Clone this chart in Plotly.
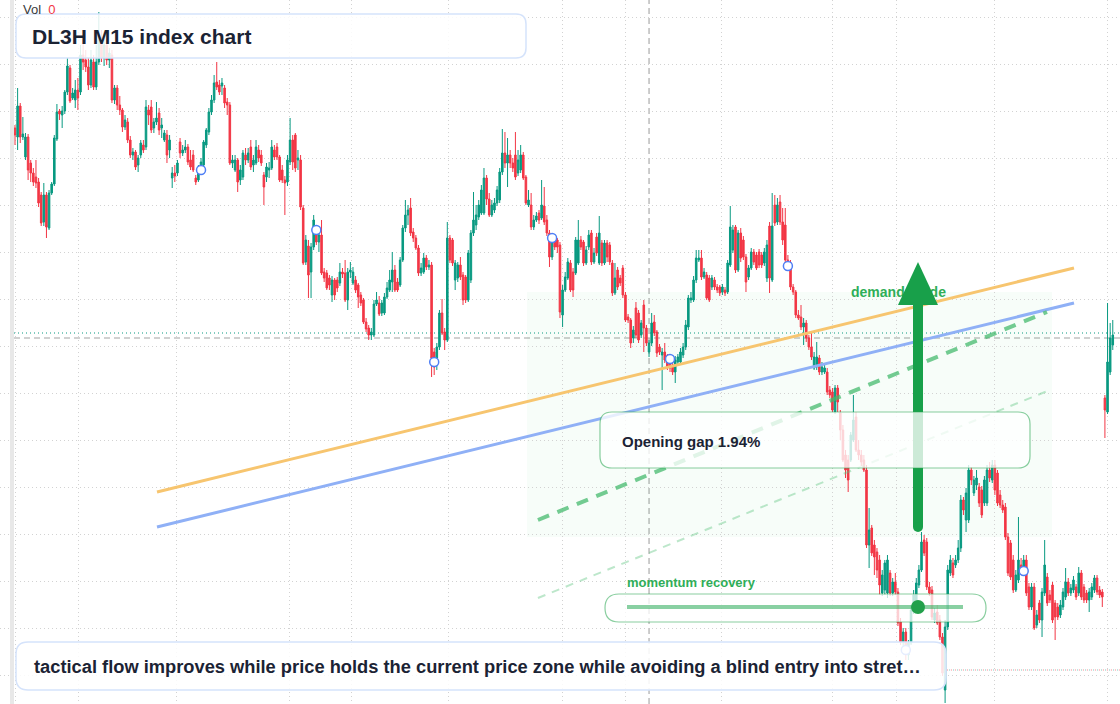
import plotly.graph_objects as go

# ---------------- data ----------------
opens = [
 872, 863, 894, 863, 843, 863, 837, 827, 823, 818,
 805, 778, 805, 772, 807, 816, 861, 889, 885, 889,
 908, 932, 902, 900, 910, 908, 945, 940, 933, 915,
 938, 913, 938, 958, 942, 955, 940, 945, 900, 912,
 895, 890, 873, 878, 860, 845, 848, 835, 845, 855,
 853, 890, 893, 872, 878, 887, 872, 860, 865, 850,
 822, 827, 827, 858, 847, 850, 853, 840, 845, 822,
 820, 830, 835, 855, 868, 888, 900, 918, 915, 914,
 912, 898, 895, 837, 830, 840, 820, 823, 845, 840,
 853, 835, 837, 850, 845, 825, 823, 830, 832, 850,
 853, 843, 830, 820, 818, 838, 860, 865, 840, 840,
 792, 738, 754, 728, 753, 765, 758, 765, 728, 727,
 722, 705, 720, 720, 717, 728, 727, 700, 728, 717,
 720, 715, 705, 700, 678, 672, 665, 665, 696, 697,
 687, 687, 703, 710, 718, 730, 718, 715, 740, 772,
 785, 792, 768, 762, 752, 727, 728, 742, 733, 735,
 648, 642, 653, 687, 668, 660, 762, 760, 720, 722,
 735, 725, 723, 700, 720, 767, 775, 783, 787, 787,
 822, 801, 785, 790, 797, 800, 828, 847, 837, 845,
 837, 845, 827, 830, 845, 823, 795, 795, 773, 780,
 787, 782, 794, 780, 767, 743, 760, 760, 755, 685,
 710, 722, 737, 728, 727, 737, 760, 758, 737, 753,
 767, 738, 763, 737, 757, 737, 757, 755, 737, 707,
 730, 722, 732, 705, 683, 680, 662, 692, 687, 665,
 695, 672, 648, 657, 678, 668, 653, 645, 648, 643,
 638, 635, 628, 638, 638, 645, 653, 673, 700, 700,
 720, 740, 742, 723, 725, 722, 713, 720, 713, 713,
 708, 710, 708, 735, 750, 773, 730, 767, 760, 743,
 723, 732, 748, 745, 748, 745, 737, 722, 774, 720,
 795, 778, 798, 778, 775, 740, 737, 713, 708, 685,
 683, 673, 677, 662, 653, 632, 633, 642, 628, 628,
 628, 610, 608, 588, 612, 587, 570, 545, 540, 540,
 560, 583, 550, 545, 540, 530, 455, 472, 455, 448,
 440, 407, 410, 407, 427, 407, 418, 408, 378, 358,
 368, 345, 357, 388, 400, 415, 430, 460, 458, 413,
 410, 380, 388, 380, 363, 310, 373, 427, 437, 435,
 440, 452, 500, 480, 480, 530, 507, 515, 513, 510,
 497, 497, 530, 520, 535, 527, 505, 495, 493, 463,
 457, 440, 410, 420, 435, 428, 440, 413, 393, 413,
 375, 397, 380, 407, 423, 405, 415, 397, 393, 385,
 393, 403, 418, 407, 410, 413, 407, 427, 413, 407,
 400, 403, 410, 422, 410, 408, 602, 588, 628, 655,
]
closes = [
 865, 894, 863, 866, 863, 830, 827, 818, 817, 797,
 777, 805, 773, 807, 816, 862, 888, 886, 889, 908,
 934, 899, 907, 910, 902, 945, 938, 933, 915, 940,
 913, 938, 960, 942, 955, 940, 947, 900, 912, 895,
 890, 873, 880, 860, 845, 848, 833, 842, 857, 850,
 893, 885, 870, 878, 882, 870, 875, 867, 845, 860,
 827, 824, 837, 847, 850, 853, 838, 833, 830, 818,
 832, 838, 858, 870, 888, 900, 917, 913, 908, 917,
 897, 895, 837, 840, 840, 818, 830, 847, 840, 847,
 833, 840, 853, 842, 837, 813, 833, 832, 853, 843,
 843, 820, 820, 817, 840, 860, 838, 832, 842, 793,
 737, 760, 725, 753, 780, 758, 765, 727, 722, 712,
 715, 720, 705, 712, 728, 726, 700, 728, 730, 728,
 710, 703, 697, 678, 671, 665, 668, 696, 700, 686,
 697, 703, 712, 720, 730, 710, 710, 740, 772, 785,
 790, 767, 762, 752, 727, 732, 742, 733, 735, 642,
 633, 653, 687, 667, 660, 762, 740, 737, 737, 735,
 723, 700, 700, 747, 767, 780, 785, 795, 810, 822,
 801, 785, 795, 797, 810, 828, 847, 837, 845, 837,
 832, 823, 840, 845, 822, 797, 800, 773, 780, 784,
 780, 795, 778, 767, 743, 760, 753, 753, 688, 710,
 723, 738, 710, 710, 760, 760, 753, 737, 750, 765,
 738, 747, 747, 767, 737, 757, 743, 738, 707, 722,
 713, 717, 705, 680, 680, 657, 670, 665, 660, 677,
 672, 657, 657, 677, 667, 647, 648, 648, 640, 633,
 632, 628, 640, 643, 648, 653, 675, 702, 702, 720,
 742, 742, 723, 728, 702, 700, 722, 713, 710, 707,
 713, 707, 737, 773, 770, 730, 767, 742, 743, 718,
 732, 748, 738, 732, 735, 735, 748, 755, 722, 774,
 777, 795, 778, 760, 740, 735, 713, 708, 685, 682,
 673, 677, 662, 653, 643, 643, 643, 628, 633, 632,
 608, 605, 590, 612, 598, 570, 540, 530, 520, 565,
 580, 550, 545, 538, 530, 455, 470, 447, 443, 430,
 415, 425, 437, 440, 407, 418, 408, 377, 358, 368,
 348, 357, 390, 405, 417, 430, 458, 447, 413, 407,
 383, 387, 377, 363, 327, 373, 430, 440, 425, 440,
 452, 500, 490, 507, 530, 520, 520, 522, 497, 485,
 520, 530, 522, 535, 510, 497, 495, 490, 463, 427,
 423, 410, 425, 440, 428, 440, 407, 393, 413, 372,
 385, 380, 408, 435, 397, 400, 380, 383, 383, 395,
 408, 418, 407, 412, 420, 403, 427, 403, 400, 400,
 408, 413, 422, 408, 405, 403, 590, 638, 662, 665,
]
highs = [
 875, 912, 897, 883, 867, 866, 840, 832, 840, 822,
 808, 817, 808, 810, 818, 865, 896, 891, 894, 910,
 942, 935, 912, 920, 922, 955, 960, 950, 942, 950,
 945, 955, 988, 970, 962, 964, 952, 950, 915, 915,
 904, 892, 885, 882, 864, 852, 850, 845, 860, 860,
 900, 895, 900, 882, 898, 892, 882, 870, 870, 865,
 833, 835, 840, 862, 855, 860, 856, 850, 850, 825,
 835, 842, 860, 872, 892, 905, 925, 938, 920, 922,
 915, 902, 898, 845, 845, 842, 835, 850, 852, 852,
 860, 845, 860, 855, 850, 828, 837, 838, 860, 855,
 857, 845, 835, 824, 845, 882, 865, 867, 850, 845,
 795, 765, 760, 757, 785, 772, 770, 780, 732, 730,
 725, 724, 722, 723, 737, 732, 740, 732, 738, 733,
 724, 717, 708, 702, 682, 675, 672, 700, 708, 704,
 700, 707, 718, 730, 748, 735, 722, 743, 775, 800,
 795, 802, 772, 765, 755, 737, 747, 745, 740, 738,
 652, 657, 690, 701, 672, 778, 765, 762, 740, 738,
 743, 728, 725, 750, 770, 808, 795, 800, 815, 832,
 825, 807, 800, 802, 814, 832, 871, 868, 862, 850,
 842, 868, 850, 855, 848, 825, 810, 807, 785, 788,
 790, 820, 813, 785, 770, 764, 764, 762, 758, 715,
 728, 742, 740, 732, 763, 780, 764, 760, 754, 770,
 770, 752, 767, 784, 760, 760, 760, 758, 740, 737,
 733, 725, 735, 708, 686, 682, 674, 698, 690, 680,
 700, 675, 660, 687, 685, 670, 656, 652, 657, 646,
 642, 638, 644, 646, 652, 657, 680, 705, 708, 724,
 750, 750, 750, 732, 728, 725, 725, 723, 716, 715,
 716, 713, 740, 794, 775, 775, 770, 772, 764, 746,
 735, 752, 751, 748, 751, 748, 752, 760, 778, 807,
 805, 802, 805, 792, 792, 745, 740, 716, 710, 690,
 695, 682, 680, 665, 667, 648, 658, 645, 638, 635,
 632, 614, 612, 615, 615, 590, 575, 550, 545, 568,
 605, 588, 560, 550, 545, 535, 492, 475, 460, 452,
 445, 430, 440, 445, 430, 422, 427, 412, 382, 372,
 372, 360, 395, 410, 422, 435, 468, 465, 462, 418,
 414, 392, 395, 385, 367, 380, 435, 445, 442, 445,
 460, 505, 503, 512, 535, 533, 524, 530, 517, 514,
 524, 535, 538, 540, 540, 530, 510, 500, 497, 467,
 460, 445, 430, 483, 442, 445, 445, 417, 417, 417,
 390, 400, 412, 460, 427, 410, 418, 400, 397, 400,
 412, 432, 422, 416, 424, 416, 433, 430, 416, 410,
 412, 417, 425, 425, 414, 411, 605, 697, 677, 680,
]
lows = [
 855, 850, 857, 860, 840, 820, 818, 814, 812, 793,
 774, 774, 762, 770, 805, 814, 859, 880, 872, 886,
 905, 897, 900, 892, 890, 905, 930, 928, 910, 912,
 910, 910, 935, 938, 934, 935, 932, 897, 896, 890,
 885, 868, 870, 857, 842, 840, 830, 828, 842, 847,
 850, 875, 867, 867, 875, 865, 862, 858, 837, 842,
 812, 818, 824, 842, 844, 847, 835, 830, 828, 815,
 818, 825, 832, 852, 865, 885, 897, 910, 905, 905,
 892, 885, 835, 832, 828, 808, 815, 820, 835, 837,
 830, 828, 835, 838, 834, 795, 818, 822, 830, 840,
 840, 818, 817, 785, 814, 835, 830, 828, 830, 790,
 735, 735, 702, 702, 750, 755, 748, 725, 718, 710,
 710, 698, 700, 708, 714, 722, 698, 690, 722, 715,
 707, 692, 694, 676, 668, 660, 660, 663, 694, 684,
 684, 685, 701, 708, 708, 708, 708, 713, 738, 768,
 775, 764, 758, 750, 724, 724, 726, 730, 730, 623,
 625, 630, 650, 665, 650, 658, 737, 734, 710, 718,
 720, 695, 697, 698, 717, 764, 770, 780, 785, 785,
 795, 783, 783, 787, 794, 797, 825, 832, 813, 832,
 828, 820, 824, 827, 820, 795, 793, 770, 770, 778,
 776, 780, 775, 764, 733, 740, 750, 747, 682, 673,
 708, 720, 708, 703, 725, 735, 750, 734, 735, 750,
 735, 736, 744, 735, 734, 735, 738, 735, 704, 705,
 710, 714, 702, 678, 677, 652, 657, 662, 657, 662,
 648, 654, 643, 654, 664, 643, 645, 610, 637, 630,
 628, 625, 617, 635, 635, 642, 650, 670, 697, 698,
 717, 738, 720, 721, 700, 698, 710, 710, 707, 704,
 705, 704, 706, 733, 747, 727, 728, 738, 740, 708,
 720, 730, 735, 730, 732, 732, 734, 718, 707, 718,
 774, 775, 775, 755, 738, 730, 710, 705, 682, 680,
 670, 655, 658, 650, 640, 630, 630, 625, 625, 626,
 605, 602, 588, 586, 588, 560, 538, 522, 508, 538,
 558, 548, 540, 534, 528, 452, 432, 444, 425, 422,
 405, 404, 405, 402, 404, 404, 405, 374, 355, 352,
 340, 340, 355, 386, 397, 412, 428, 444, 410, 404,
 380, 377, 375, 360, 324, 297, 370, 424, 422, 432,
 437, 448, 485, 468, 477, 515, 504, 510, 493, 482,
 494, 494, 518, 517, 505, 494, 492, 487, 460, 424,
 420, 407, 408, 417, 425, 425, 404, 390, 390, 370,
 372, 377, 363, 404, 394, 397, 377, 360, 380, 382,
 390, 400, 404, 404, 407, 400, 404, 400, 397, 397,
 388, 400, 407, 405, 402, 393, 562, 586, 625, 650,
]
bars = list(range(len(opens)))

# signal markers (bar index, price)
signal_bar = [71, 115, 160, 205, 250, 295, 340, 385]
signal_price = [830, 770, 638, 762, 641, 734, 350, 429]

# trend / guide lines (bar index, price)
upper_trend_bar = [54.2, 404.2]
upper_trend_price = [508, 732]
lower_trend_bar = [54.2, 404.2]
lower_trend_price = [473, 697]
guide_bar = [199.6, 393.9]
guide_price = [480, 688]
guide2_bar = [199.6, 395.0]
guide2_price = [402, 610]
zone_bar = [195.4, 395.8]
zone_price = [463, 708]

last_price = 667
cross_price = 662
cross_bar = 242
low_line_price = 330
low_line_start = 355.7
label_bar = 319.1
label_price = 707

time_grid = [0, 24.4, 61.5, 104.6, 128.6, 165.3, 208.8, 233.2, 269.8, 312.2, 336.6, 373.7, 416.8]

# ---------------- layout helpers ----------------
W, H = 1120, 704
X0, DX = 15, 2.62
UP, DOWN = "#089981", "#f23645"
FONT = "Liberation Sans, Arial, Helvetica, sans-serif"


def px(x):
    return x / W


def py(y):
    return 1 - y / H


def rrect(x0, y0, x1, y1, r):
    pts = [
        ("M", (x0 + r, y0)), ("L", (x1 - r, y0)), ("Q", (x1, y0), (x1, y0 + r)),
        ("L", (x1, y1 - r)), ("Q", (x1, y1), (x1 - r, y1)), ("L", (x0 + r, y1)),
        ("Q", (x0, y1), (x0, y1 - r)), ("L", (x0, y0 + r)), ("Q", (x0, y0), (x0 + r, y0)),
    ]
    s = ""
    for p in pts:
        s += p[0] + " " + " ".join(f"{px(a):.5f},{py(b):.5f}" for a, b in p[1:]) + " "
    return s + "Z"


fig = go.Figure()

fig.add_trace(go.Candlestick(
    x=bars, open=opens, high=highs, low=lows, close=closes,
    increasing=dict(line=dict(color=UP, width=1), fillcolor=UP),
    decreasing=dict(line=dict(color=DOWN, width=1), fillcolor=DOWN),
    whiskerwidth=0, hoverinfo="skip", showlegend=False,
))

# "demand guide" label sits under the arrow
fig.add_trace(go.Scatter(
    x=[label_bar], y=[label_price], mode="text", text=["demand guide"],
    textposition="middle right",
    textfont=dict(family=FONT, size=14, color="#2fae58", weight="bold"),
    hoverinfo="skip", showlegend=False,
))

fig.add_trace(go.Scatter(x=upper_trend_bar, y=upper_trend_price, mode="lines",
                         line=dict(color="#f7c56f", width=3), hoverinfo="skip", showlegend=False))
fig.add_trace(go.Scatter(x=lower_trend_bar, y=lower_trend_price, mode="lines",
                         line=dict(color="#8fb0f6", width=3), hoverinfo="skip", showlegend=False))
fig.add_trace(go.Scatter(x=guide_bar, y=guide_price, mode="lines",
                         line=dict(color="rgba(70,185,110,0.75)", width=4, dash="12px,9px"),
                         hoverinfo="skip", showlegend=False))
fig.add_trace(go.Scatter(x=guide2_bar, y=guide2_price, mode="lines",
                         line=dict(color="rgba(90,195,125,0.4)", width=2, dash="8px,7px"),
                         hoverinfo="skip", showlegend=False))
fig.add_trace(go.Scatter(x=signal_bar, y=signal_price, mode="markers",
                         marker=dict(symbol="circle", size=9, color="white",
                                     line=dict(color="#4f7ff5", width=1.5)),
                         hoverinfo="skip", showlegend=False))

shapes = []
# demand zone
shapes.append(dict(type="rect", xref="x", yref="y", x0=zone_bar[0], x1=zone_bar[1],
                   y0=zone_price[0], y1=zone_price[1], layer="below",
                   fillcolor="rgba(34,197,94,0.035)", line=dict(width=0)))
# crosshair and price lines
shapes.append(dict(type="line", xref="x", yref="paper", x0=cross_bar, x1=cross_bar, y0=0, y1=1,
                   layer="below", line=dict(color="#9a9a9a", width=1, dash="6px,4px")))
shapes.append(dict(type="line", xref="paper", yref="y", x0=px(14), x1=1, y0=cross_price, y1=cross_price,
                   layer="below", line=dict(color="#a3a3a3", width=1, dash="6px,4px")))
shapes.append(dict(type="line", xref="paper", yref="y", x0=px(14), x1=1, y0=last_price, y1=last_price,
                   layer="below", line=dict(color=UP, width=1, dash="1px,3px")))
shapes.append(dict(type="line", xref="x", yref="y", x0=low_line_start, x1=421.7,
                   y0=low_line_price, y1=low_line_price,
                   layer="below", line=dict(color="rgba(242,54,69,0.6)", width=1, dash="1px,3px")))
shapes.append(dict(type="line", xref="x", yref="y", x0=low_line_start + 0.8, x1=421.7,
                   y0=low_line_price, y1=low_line_price,
                   layer="below", line=dict(color="rgba(8,153,129,0.5)", width=1, dash="1px,3px")))

# big arrow
AC = "#18a04a"
shapes.append(dict(type="rect", xref="paper", yref="paper", x0=px(913), x1=px(923), y0=py(527), y1=py(300),
                   fillcolor=AC, line=dict(width=0), layer="above"))
shapes.append(dict(type="circle", xref="paper", yref="paper", x0=px(913), x1=px(923), y0=py(532), y1=py(522),
                   fillcolor=AC, line=dict(width=0), layer="above"))
shapes.append(dict(type="path", xref="paper", yref="paper",
                   path=f"M {px(898)},{py(305)} L {px(938)},{py(305)} L {px(918)},{py(262)} Z",
                   fillcolor=AC, line=dict(width=0), layer="above"))

# momentum widget
shapes.append(dict(type="path", xref="paper", yref="paper", path=rrect(605, 594, 986, 622, 14),
                   fillcolor="rgba(255,255,255,0.75)", line=dict(color="rgba(40,165,80,0.55)", width=1.2),
                   layer="above"))
shapes.append(dict(type="line", xref="paper", yref="paper", x0=px(627), x1=px(963), y0=py(607), y1=py(607),
                   line=dict(color="rgba(40,170,85,0.55)", width=4), layer="above"))
shapes.append(dict(type="circle", xref="paper", yref="paper", x0=px(911), x1=px(925), y0=py(614), y1=py(600),
                   fillcolor="#22a04b", line=dict(width=0), layer="above"))

# gap callout box
shapes.append(dict(type="path", xref="paper", yref="paper", path=rrect(600, 412, 1030, 468, 12),
                   fillcolor="rgba(255,255,255,0.78)", line=dict(color="rgba(40,165,80,0.55)", width=1.2),
                   layer="above"))
# title box
shapes.append(dict(type="path", xref="paper", yref="paper", path=rrect(16, 14, 526, 58, 10),
                   fillcolor="rgba(255,255,255,0.86)", line=dict(color="#d5e3fb", width=1.5),
                   layer="above"))
# bottom note box
shapes.append(dict(type="path", xref="paper", yref="paper", path=rrect(16, 642, 946, 690, 12),
                   fillcolor="rgba(255,255,255,0.86)", line=dict(color="#d5e3fb", width=1.5),
                   layer="above"))
# left edge strip
shapes.append(dict(type="rect", xref="paper", yref="paper", x0=px(10), x1=px(14), y0=0, y1=1,
                   fillcolor="#e8e8e8", line=dict(width=0), layer="above"))

annotations = [
    dict(xref="paper", yref="paper", x=px(21), y=py(9), xanchor="left", yanchor="middle",
         text="Vol&nbsp;&nbsp;<span style='color:#f23645'>0</span>", showarrow=False,
         font=dict(family=FONT, size=13, color="#3a3a3a")),
    dict(xref="paper", yref="paper", x=px(30), y=py(36), xanchor="left", yanchor="middle",
         text="DL3H M15 index chart", showarrow=False,
         font=dict(family=FONT, size=21, color="#1b2334", weight="bold")),
    dict(xref="paper", yref="paper", x=px(620), y=py(441), xanchor="left", yanchor="middle",
         text="Opening gap 1.94%", showarrow=False,
         font=dict(family=FONT, size=15, color="#1b2334", weight="bold")),
    dict(xref="paper", yref="paper", x=px(625), y=py(582), xanchor="left", yanchor="middle",
         text="momentum recovery", showarrow=False,
         font=dict(family=FONT, size=13, color="#2fae58", weight="bold")),
    dict(xref="paper", yref="paper", x=px(32), y=py(666), xanchor="left", yanchor="middle",
         text="tactical flow improves while price holds the current price zone while avoiding a blind entry into stret\u2026",
         showarrow=False, font=dict(family=FONT, size=18.3, color="#1b2334", weight="bold")),
]

fig.update_layout(
    width=W, height=H, margin=dict(l=0, r=0, t=0, b=0),
    paper_bgcolor="white", plot_bgcolor="white",
    showlegend=False, shapes=shapes, annotations=annotations,
    boxgap=0.15, dragmode=False, hovermode=False,
    xaxis=dict(range=[(0 - X0) / DX, (W - X0) / DX], tickmode="array", tickvals=time_grid,
               showticklabels=False, ticks="", showgrid=True, gridcolor="#d2d2d2", griddash="1px,3px",
               gridwidth=1, zeroline=False, showline=False, rangeslider=dict(visible=False), fixedrange=True),
    yaxis=dict(range=[296, 1000], tickmode="linear", tick0=983, dtick=47, showticklabels=False, ticks="",
               showgrid=True, gridcolor="#d2d2d2", griddash="1px,3px", gridwidth=1, zeroline=False,
               showline=False, fixedrange=True),
)

fig.write_html("out.html", config={"displayModeBar": False, "staticPlot": True},
               post_script="document.body.style.margin='0';")
